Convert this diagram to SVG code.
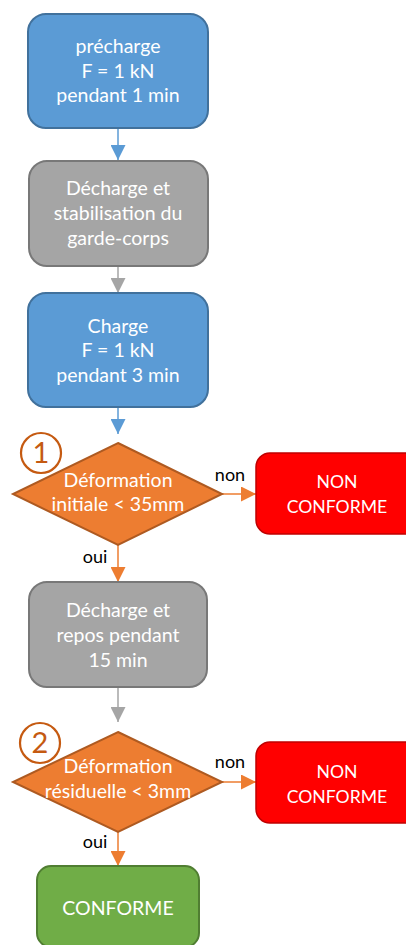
<svg xmlns="http://www.w3.org/2000/svg" width="406" height="945" viewBox="0 0 406 945">
<style>
text{font-family:Lato,"Liberation Sans",sans-serif;}
.t{fill:#fff;font-size:19.5px;text-anchor:middle;}
.tr{fill:#fff;font-size:17.6px;text-anchor:middle;}
.lbl{fill:#000;font-size:18px;text-anchor:middle;}
.num{fill:#C55A11;font-size:29px;text-anchor:middle;}
.blue{fill:#5B9BD5;stroke:#41719C;stroke-width:2;}
.gray{fill:#A5A5A5;stroke:#787878;stroke-width:2;}
.orange{fill:#ED7D31;stroke:#AE5A21;stroke-width:2;}
.red{fill:#FF0000;stroke:#C00000;stroke-width:1.5;}
.green{fill:#70AD47;stroke:#507E32;stroke-width:2;}
.circ{fill:none;stroke:#C55A11;stroke-width:2.2;}
.c{stroke-width:1.5;fill:none;}
</style>
<defs>
<marker id="ab" markerUnits="userSpaceOnUse" markerWidth="15" markerHeight="15" viewBox="0 0 14 14" refX="14" refY="7" orient="auto"><path d="M0,0 L14,7 L0,14 Z" fill="#5B9BD5"/></marker>
<marker id="ag" markerUnits="userSpaceOnUse" markerWidth="15" markerHeight="15" viewBox="0 0 14 14" refX="14" refY="7" orient="auto"><path d="M0,0 L14,7 L0,14 Z" fill="#A5A5A5"/></marker>
<marker id="ao" markerUnits="userSpaceOnUse" markerWidth="15" markerHeight="15" viewBox="0 0 14 14" refX="14" refY="7" orient="auto"><path d="M0,0 L14,7 L0,14 Z" fill="#ED7D31"/></marker>
</defs>
<g id="connectors">
<line class="c" x1="118" y1="128" x2="118" y2="160" stroke="#5B9BD5" marker-end="url(#ab)"/>
<line class="c" x1="118" y1="266" x2="118" y2="293" stroke="#A5A5A5" marker-end="url(#ag)"/>
<line class="c" x1="118" y1="408" x2="118" y2="434" stroke="#5B9BD5" marker-end="url(#ab)"/>
<line class="c" x1="222" y1="494" x2="256" y2="494" stroke="#ED7D31" marker-end="url(#ao)"/>
<line class="c" x1="118" y1="545" x2="118" y2="582" stroke="#ED7D31" marker-end="url(#ao)"/>
<line class="c" x1="118" y1="687" x2="118" y2="722" stroke="#A5A5A5" marker-end="url(#ag)"/>
<line class="c" x1="222" y1="782" x2="256" y2="782" stroke="#ED7D31" marker-end="url(#ao)"/>
<line class="c" x1="118" y1="832" x2="118" y2="866" stroke="#ED7D31" marker-end="url(#ao)"/>
<text class="lbl" x="230" y="481">non</text>
<text class="lbl" x="95" y="563">oui</text>
<text class="lbl" x="230" y="768">non</text>
<text class="lbl" x="95" y="848">oui</text>
</g>
<g id="precharge">
<rect class="blue" x="28" y="14" width="180" height="114" rx="18"/>
<text class="t" x="118" y="53">précharge</text>
<text class="t" x="118" y="78">F = 1 kN</text>
<text class="t" x="118" y="102">pendant 1 min</text>
</g>
<g id="decharge1">
<rect class="gray" x="29" y="161" width="179" height="105" rx="18"/>
<text class="t" x="118" y="195">Décharge et</text>
<text class="t" x="118" y="220">stabilisation du</text>
<text class="t" x="118" y="245">garde-corps</text>
</g>
<g id="charge">
<rect class="blue" x="28" y="293" width="180" height="114" rx="18"/>
<text class="t" x="118" y="333">Charge</text>
<text class="t" x="118" y="357">F = 1 kN</text>
<text class="t" x="118" y="382">pendant 3 min</text>
</g>
<g id="decision1">
<polygon class="orange" points="118,443 222,494 118,545 13,494"/>
<text class="t" x="118" y="487">Déformation</text>
<text class="t" x="118" y="511">initiale &lt; 35mm</text>
<circle class="circ" cx="41" cy="453" r="20"/>
<text class="num" x="41" y="463">1</text>
</g>
<g id="nonconforme1">
<rect class="red" x="256" y="453" width="162" height="81" rx="14"/>
<text class="tr" x="337" y="488">NON</text>
<text class="tr" x="337" y="513">CONFORME</text>
</g>
<g id="decharge2">
<rect class="gray" x="29" y="582" width="178" height="105" rx="18"/>
<text class="t" x="118" y="617">Décharge et</text>
<text class="t" x="118" y="642">repos pendant</text>
<text class="t" x="118" y="667">15 min</text>
</g>
<g id="decision2">
<polygon class="orange" points="118,732 222,782 118,832 13,782"/>
<text class="t" x="118" y="773">Déformation</text>
<text class="t" x="118" y="798">résiduelle &lt; 3mm</text>
<circle class="circ" cx="40" cy="743" r="20"/>
<text class="num" x="40" y="753">2</text>
</g>
<g id="nonconforme2">
<rect class="red" x="256" y="742" width="162" height="81" rx="14"/>
<text class="tr" x="337" y="778">NON</text>
<text class="tr" x="337" y="803">CONFORME</text>
</g>
<g id="conforme">
<rect class="green" x="37" y="866" width="162" height="81" rx="14"/>
<text class="t" x="118" y="915">CONFORME</text>
</g>
</svg>
